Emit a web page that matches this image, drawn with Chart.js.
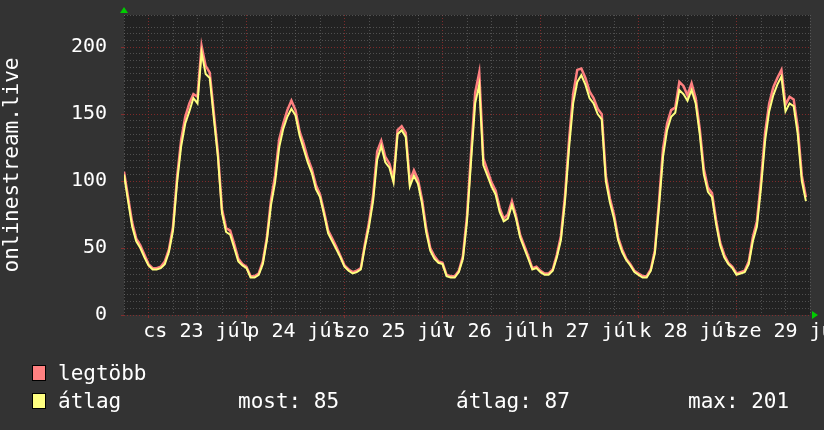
<!DOCTYPE html>
<html>
<head>
<meta charset="utf-8">
<script src="https://cdn.jsdelivr.net/npm/chart.js@4/dist/chart.umd.min.js"></script>
<style>
  html, body { margin: 0; padding: 0; background: #333333; }
  #wrap { width: 824px; height: 430px; }
</style>
</head>
<body>
<div id="wrap"><canvas id="c" width="824" height="430"></canvas></div>
<script>
// ---- data (hourly, starting 22 Jul 18:00) ----
const dayLabels = ["cs 23 júl", "p 24 júl", "szo 25 júl", "v 26 júl", "h 27 júl", "k 28 júl", "sze 29 júl"];
const yTickLabels = [0, 50, 100, 150, 200];
const axisTitle = "onlinestream.live";
const seriesNames = ["legtöbb", "átlag"];
const statLabels = ["most: 85", "átlag: 87", "max: 201"];

const avgValues = [
  105, 85, 66, 55, 50, 43, 37, 34, 34, 35, 38, 47,
  63, 99, 126, 143, 152, 162, 158, 196, 180, 177, 147, 118,
  76, 62, 60, 50, 40, 37, 35, 28, 28, 30, 38, 56,
  82, 99, 125, 139, 148, 154, 149, 134, 124, 114, 106, 94,
  88, 75, 61, 55, 49, 43, 36, 33, 31, 32, 34, 51,
  66, 85, 116, 126, 114, 110, 99, 135, 138, 133, 96, 104,
  98, 83, 62, 48, 42, 39, 38, 29, 28, 28, 32, 42,
  70, 115, 158, 172, 112, 104, 96, 90, 77, 70, 72, 82,
  72, 58, 50, 42, 34, 35, 32, 30, 30, 33, 43, 56,
  85, 125, 158, 174, 179, 172, 162, 158, 150, 146, 100, 84,
  72, 56, 47, 41, 37, 32, 30, 28, 28, 33, 46, 80,
  118, 138, 148, 151, 168, 165, 160, 168, 158, 135, 105, 92,
  88, 68, 52, 43, 38, 35, 30, 31, 32, 38, 55, 66,
  95, 130, 152, 164, 172, 178, 152, 158, 156, 135, 100, 85
];
const maxValues = [
  107, 88, 69, 57, 52, 45, 38, 35, 35, 36, 40, 49,
  66, 103, 131, 148, 158, 165, 163, 201, 186, 181, 151, 121,
  79, 65, 63, 53, 42, 38, 36, 29, 29, 31, 40, 58,
  86, 104, 131, 143, 153, 160, 153, 137, 128, 117, 109, 97,
  90, 77, 63, 57, 51, 44, 37, 34, 32, 33, 35, 53,
  69, 89, 122, 130, 118, 113, 102, 138, 141, 136, 100, 108,
  101, 86, 65, 50, 44, 40, 39, 30, 29, 29, 33, 44,
  74, 121, 166, 181, 117, 108, 99, 93, 80, 72, 75, 85,
  74, 60, 52, 44, 35, 36, 33, 31, 31, 34, 45, 59,
  89, 131, 165, 183, 184, 177, 167, 162, 154, 150, 104, 87,
  75, 58, 49, 42, 38, 33, 31, 29, 29, 34, 48, 84,
  124, 143, 153, 155, 174, 171, 164, 173, 162, 139, 109, 95,
  91, 71, 54, 45, 39, 36, 31, 32, 33, 40, 58, 70,
  100, 136, 158, 170, 177, 183, 157, 163, 161, 140, 104, 88
];

// ---- styling ----
const PINK = '#ff8080';
const YELLOW = '#ffff80';
const MONO = '"DejaVu Sans Mono", "Liberation Mono", monospace';
const MINOR = 'rgba(110,110,110,0.6)';
const MAJOR = 'rgba(150,45,45,0.8)';

const toPts = arr => arr.map((v, i) => ({ x: i, y: v }));

const bgPlugin = {
  id: 'bg',
  beforeDraw(chart) {
    const { ctx, chartArea: a } = chart;
    ctx.save();
    ctx.fillStyle = '#333333';
    ctx.fillRect(0, 0, chart.width, chart.height);
    ctx.fillStyle = '#222222';
    ctx.fillRect(a.left, a.top, a.right - a.left, a.bottom - a.top);
    ctx.restore();
  },
  afterDraw(chart) {
    const { ctx, chartArea: a } = chart;
    ctx.save();
    // green arrows
    ctx.fillStyle = '#00cc00';
    ctx.beginPath();
    ctx.moveTo(a.left - 4, a.top - 2);
    ctx.lineTo(a.left + 4, a.top - 2);
    ctx.lineTo(a.left, a.top - 8);
    ctx.closePath();
    ctx.fill();
    ctx.beginPath();
    ctx.moveTo(a.right + 2, a.bottom - 4);
    ctx.lineTo(a.right + 2, a.bottom + 4);
    ctx.lineTo(a.right + 8, a.bottom);
    ctx.closePath();
    ctx.fill();
    // legend
    const colors = [PINK, YELLOW];
    const rowsY = [365, 393];
    ctx.font = '21px ' + MONO;
    ctx.textBaseline = 'alphabetic';
    ctx.textAlign = 'left';
    for (let i = 0; i < 2; i++) {
      ctx.fillStyle = colors[i];
      ctx.fillRect(32, rowsY[i], 14, 16);
      ctx.strokeStyle = '#000000';
      ctx.lineWidth = 1;
      ctx.strokeRect(32.5, rowsY[i] + 0.5, 13, 15);
      ctx.fillStyle = '#ffffff';
      ctx.fillText(seriesNames[i], 58, rowsY[i] + 15);
    }
    const statX = [238, 456, 688];
    statLabels.forEach((t, i) => ctx.fillText(t, statX[i], rowsY[1] + 15));
    ctx.restore();
  }
};

new Chart(document.getElementById('c'), {
  type: 'line',
  data: {
    datasets: [
      { label: seriesNames[0], data: toPts(maxValues), borderColor: PINK, borderWidth: 2.5, pointRadius: 0, tension: 0, fill: false, order: 2 },
      { label: seriesNames[1], data: toPts(avgValues), borderColor: YELLOW, borderWidth: 2, pointRadius: 0, tension: 0, fill: false, order: 1 }
    ]
  },
  options: {
    responsive: false,
    animation: false,
    events: [],
    layout: { padding: { left: 0, top: 15, right: 14, bottom: 0 } },
    plugins: { legend: { display: false }, tooltip: { enabled: false } },
    scales: {
      x: {
        type: 'linear',
        min: 0,
        max: 168,
        afterFit(scale) { scale.height = 115; scale.paddingLeft = 0; scale.paddingRight = 0; },
        ticks: {
          stepSize: 6,
          autoSkip: false,
          maxRotation: 0,
          minRotation: 0,
          padding: 2,
          color: '#ffffff',
          font: { family: MONO, size: 20 },
          callback(v) {
            if ((v - 18) % 24 === 0) return dayLabels[(v - 18) / 24];
            return '';
          }
        },
        grid: {
          color: ctx => ((ctx.tick && (ctx.tick.value - 6) % 24 === 0) ? MAJOR : MINOR),
          tickColor: ctx => ((ctx.tick && (ctx.tick.value - 6) % 24 === 0) ? MAJOR : 'rgba(0,0,0,0)'),
          tickLength: 3,
          tickBorderDash: [],
          lineWidth: 1
        },
        border: { display: false, dash: [1, 2] }
      },
      y: {
        type: 'linear',
        min: 0,
        max: 224,
        afterFit(scale) { scale.width = 124; scale.paddingTop = 0; scale.paddingBottom = 0; },
        ticks: {
          stepSize: 5,
          autoSkip: false,
          padding: 14,
          color: '#ffffff',
          font: { family: MONO, size: 20 },
          callback(v) { return yTickLabels.includes(v) ? String(v) : ''; }
        },
        grid: {
          color: ctx => ((ctx.tick && yTickLabels.includes(ctx.tick.value)) ? MAJOR : MINOR),
          tickColor: ctx => ((ctx.tick && yTickLabels.includes(ctx.tick.value)) ? MAJOR : 'rgba(0,0,0,0)'),
          tickLength: 3,
          tickBorderDash: [],
          lineWidth: 1
        },
        border: { display: false, dash: [1, 2] },
        title: {
          display: true,
          text: axisTitle,
          color: '#ffffff',
          font: { family: MONO, size: 21 },
          padding: { top: 0, bottom: 0 }
        }
      }
    }
  },
  plugins: [bgPlugin]
});
</script>
</body>
</html>
